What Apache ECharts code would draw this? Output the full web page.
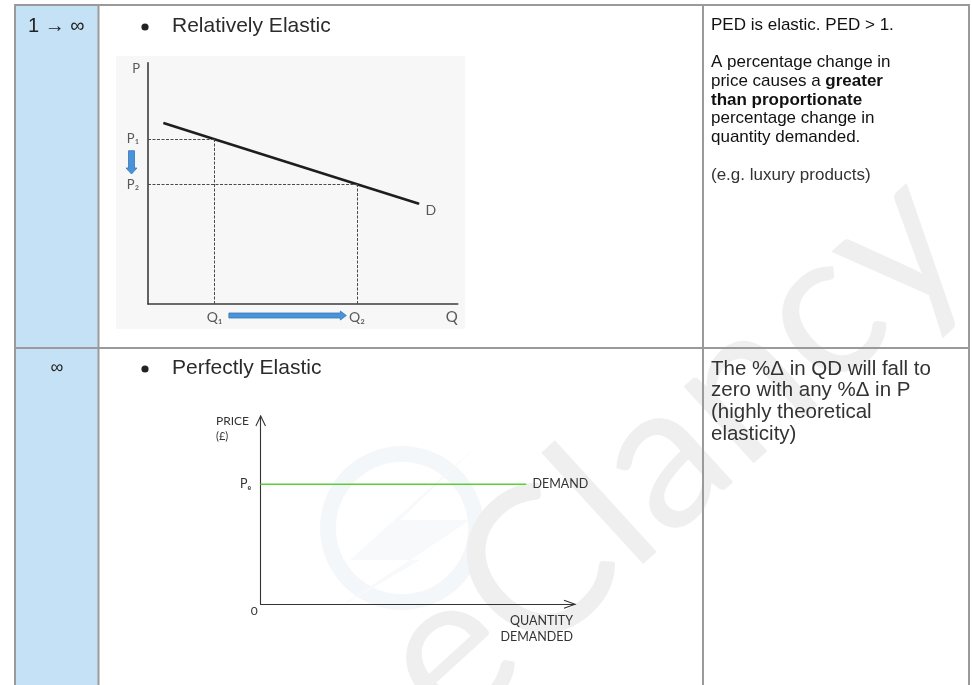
<!DOCTYPE html>
<html>
<head>
<meta charset="utf-8">
<script src="https://cdn.jsdelivr.net/npm/echarts@6/dist/echarts.min.js"></script>
<style>
html,body{margin:0;padding:0;background:#ffffff;}
#c{width:972px;height:685px;}
</style>
</head>
<body>
<div id="c"></div>
<script>
// ---------- table content ----------
const rangeLabels = ['1 \u2192 \u221e', '\u221e'];
const typeLabels = ['Relatively Elastic', 'Perfectly Elastic'];
const descRow1Head = 'PED is elastic. PED > 1.';
const descRow1Body = ['A percentage change in', 'price causes a {b|greater}', '{b|than proportionate}', 'percentage change in', 'quantity demanded.'];
const descRow1Tail = '(e.g. luxury products)';
const descRow2 = ['The %\u0394 in QD will fall to', 'zero with any %\u0394 in P', '(highly theoretical', 'elasticity)'];

// ---------- chart 1: relatively elastic demand ----------
const relQ = [0.5, 2.15, 6.75, 8.75];      // quantity along D
const relP = [7.5, 6.83, 4.96, 4.15];      // price along D
const relPriceTicks = ['P\u2081', 'P\u2082'];
const relQtyTicks = ['Q\u2081', 'Q\u2082'];
const relAxisNames = ['Q', 'P', 'D'];

// ---------- chart 2: perfectly elastic demand ----------
const perfQ = [0, 8.44];
const perfP = [6.37, 6.37];
const perfLabels = ['P\u2091', 'DEMAND'];
const perfAxisNames = ['QUANTITY\nDEMANDED', 'PRICE', '(\u00a3)', '0'];

const FONT = "'Liberation Sans', Arial, sans-serif";
const CF = "Lato, 'Open Sans', sans-serif";

const chart = echarts.init(document.getElementById('c'), null, {renderer: 'canvas', width: 972, height: 685});

function staticGraphics() {
  const els = [];
  const line = (id, x1, y1, x2, y2) => ({id, type: 'line', z: 40, silent: true,
    shape: {x1, y1, x2, y2}, style: {stroke: '#9a9a9a', lineWidth: 2}});
  els.push({id: 'blue', type: 'rect', z: -30, silent: true, shape: {x: 15, y: 5, width: 83.5, height: 690}, style: {fill: '#c5e1f5'}});
  // faint watermark
  els.push({id: 'wmRing', type: 'circle', z: -25, silent: true, shape: {cx: 402, cy: 528, r: 74}, style: {fill: 'none', stroke: '#f4f7f9', lineWidth: 16}});
  els.push({id: 'wmBolt', type: 'polygon', z: -25, silent: true,
    shape: {points: [[480, 443], [350, 560], [420, 560], [335, 610], [470, 520], [400, 520]]}, style: {fill: '#f7f9fa'}});
  els.push({id: 'wmText', type: 'text', z: -24, silent: true, x: 670, y: 450, rotation: 0.74,
    style: {text: 'eClancy', fill: '#efefef', fontSize: 205, fontWeight: 'normal', fontFamily: CF, textAlign: 'center', textVerticalAlign: 'middle'}});
  els.push({id: 'c1bg', type: 'rect', z: -20, silent: true, shape: {x: 116, y: 56, width: 349, height: 273}, style: {fill: '#f7f7f7'}});
  els.push(line('tTop', 14, 5, 970, 5));
  els.push(line('tLeft', 15, 4, 15, 690));
  els.push(line('tC1', 98.5, 4, 98.5, 690));
  els.push(line('tC2', 703, 4, 703, 690));
  els.push(line('tRight', 969, 4, 969, 690));
  els.push(line('tRow', 14, 348, 970, 348));
  els.push({id: 'r1', type: 'text', z: 50, silent: true, x: 28, y: 26,
    style: {text: rangeLabels[0], fill: '#222', fontSize: 20, fontFamily: FONT, textVerticalAlign: 'middle'}});
  els.push({id: 'r2', type: 'text', z: 50, silent: true, x: 57, y: 368,
    style: {text: rangeLabels[1], fill: '#222', fontSize: 18, fontFamily: FONT, textAlign: 'center', textVerticalAlign: 'middle'}});
  els.push({id: 'b1', type: 'circle', z: 50, silent: true, shape: {cx: 145, cy: 27, r: 3.6}, style: {fill: '#222'}});
  els.push({id: 'b2', type: 'circle', z: 50, silent: true, shape: {cx: 145, cy: 369, r: 3.6}, style: {fill: '#222'}});
  els.push({id: 'h1', type: 'text', z: 50, silent: true, x: 172, y: 26,
    style: {text: typeLabels[0], fill: '#2b2b2b', fontSize: 21, fontFamily: FONT, textVerticalAlign: 'middle'}});
  els.push({id: 'h2', type: 'text', z: 50, silent: true, x: 172, y: 368,
    style: {text: typeLabels[1], fill: '#2b2b2b', fontSize: 21, fontFamily: FONT, textVerticalAlign: 'middle'}});
  els.push({id: 'd1a', type: 'text', z: 50, silent: true, x: 711, y: 25,
    style: {text: descRow1Head, fill: '#111', fontSize: 17, fontFamily: FONT, textVerticalAlign: 'middle'}});
  els.push({id: 'd1b', type: 'text', z: 50, silent: true, x: 711, y: 53.4,
    style: {text: descRow1Body.join('\n'), fill: '#111', fontSize: 17, fontFamily: FONT, lineHeight: 18.6, textVerticalAlign: 'top',
      rich: {b: {fontWeight: 'bold', fontSize: 17, fontFamily: FONT, lineHeight: 18.6, fill: '#111'}}}});
  els.push({id: 'd1c', type: 'text', z: 50, silent: true, x: 711, y: 175,
    style: {text: descRow1Tail, fill: '#333', fontSize: 17, fontFamily: FONT, textVerticalAlign: 'middle'}});
  els.push({id: 'd2', type: 'text', z: 50, silent: true, x: 711, y: 358.2,
    style: {text: descRow2.join('\n'), fill: '#333', fontSize: 20.5, fontFamily: FONT, lineHeight: 21.7, textVerticalAlign: 'top'}});
  return els;
}

const axisBase = (gi, color, w) => ({
  gridIndex: gi, type: 'value', min: 0, max: 10, interval: 10,
  axisLine: {show: true, onZero: false, lineStyle: {color: color, width: w}},
  axisTick: {show: false}, axisLabel: {show: false}, splitLine: {show: false}
});

const x1 = axisBase(0, '#3c3c3c', 1.6);
x1.name = relAxisNames[0]; x1.nameLocation = 'end'; x1.nameGap = 0;
x1.nameTextStyle = {fontFamily: CF, fontSize: 15, color: '#595959', align: 'right', verticalAlign: 'top', padding: [6, 0, 0, 0]};
const y1 = axisBase(0, '#3c3c3c', 1.6);
y1.name = relAxisNames[1]; y1.nameLocation = 'end'; y1.nameGap = 0;
y1.nameTextStyle = {fontFamily: CF, fontSize: 13, color: '#595959', align: 'right', verticalAlign: 'top', padding: [0, 8, 0, 0]};

const x2 = axisBase(1, '#333', 1.1);
x2.axisLabel = {show: true, showMinLabel: true, formatter: v => (v === 0 ? perfAxisNames[3] : ''), align: 'right', margin: 1,
  padding: [0, 3, 0, 0], fontFamily: CF, fontSize: 12, color: '#333'};
x2.name = perfAxisNames[0]; x2.nameLocation = 'end'; x2.nameGap = -2;
x2.nameTextStyle = {fontFamily: CF, fontSize: 12.5, color: '#333', align: 'right', verticalAlign: 'top', lineHeight: 15.7, padding: [9, 0, 0, 0]};
const y2 = axisBase(1, '#333', 1.1);

const option = {
  animation: false,
  backgroundColor: '#ffffff',
  grid: [
    {left: 148, top: 62.7, width: 309.7, height: 241.3, containLabel: false, outerBoundsMode: 'none'},
    {left: 260.7, top: 416, width: 314.3, height: 188.3, containLabel: false, outerBoundsMode: 'none'}
  ],
  xAxis: [x1, x2],
  yAxis: [y1, y2],
  series: [
    {
      type: 'line', xAxisIndex: 0, yAxisIndex: 0, silent: true,
      symbol: 'circle', symbolSize: 1, showSymbol: true,
      itemStyle: {color: '#1e1e1e'},
      lineStyle: {color: '#1e1e1e', width: 2.6},
      data: relQ.map((q, i) => i === relQ.length - 1
        ? {value: [q, relP[i]], label: {show: true, position: 'right', distance: 5, offset: [1, 7], formatter: relAxisNames[2],
            fontFamily: CF, fontSize: 14, color: '#595959'}}
        : [q, relP[i]]),
      markLine: {
        symbol: 'none', silent: true, animation: false,
        lineStyle: {color: '#4a4a4a', width: 1, type: [3, 1.5]},
        label: {show: true, color: '#595959', fontFamily: CF, fontSize: 13},
        data: [
          [{coord: [0, relP[1]], label: {formatter: relPriceTicks[0], position: 'start', distance: 9}}, {coord: [relQ[1], relP[1]]}],
          [{coord: [0, relP[2]], label: {formatter: relPriceTicks[1], position: 'start', distance: 9}}, {coord: [relQ[2], relP[2]]}],
          [{coord: [relQ[1], 0], label: {formatter: relQtyTicks[0], position: 'start', distance: 6, fontSize: 14}}, {coord: [relQ[1], relP[1]]}],
          [{coord: [relQ[2], 0], label: {formatter: relQtyTicks[1], position: 'start', distance: 6, fontSize: 14}}, {coord: [relQ[2], relP[2]]}]
        ]
      }
    },
    {
      type: 'line', xAxisIndex: 1, yAxisIndex: 1, silent: true,
      symbol: 'circle', symbolSize: 1, showSymbol: true,
      itemStyle: {color: '#5ccf38'},
      lineStyle: {color: '#5ccf38', width: 1.5},
      data: perfQ.map((q, i) => ({
        value: [q, perfP[i]],
        label: {show: true, position: i === 0 ? 'left' : 'right', distance: i === 0 ? 9 : 6, formatter: perfLabels[i],
          fontFamily: CF, fontSize: 12.5, color: '#333'}
      }))
    }
  ],
  graphic: {elements: staticGraphics()}
};

chart.setOption(option);

const c1 = (q, p) => chart.convertToPixel({gridIndex: 0}, [q, p]);
const c2 = (q, p) => chart.convertToPixel({gridIndex: 1}, [q, p]);
const extra = [];
const pp1 = c1(0, relP[1]), pp2 = c1(0, relP[2]);
const qq1 = c1(relQ[1], 0), qq2 = c1(relQ[2], 0);
{
  const cx = pp1[0] - 16.5, ya = pp1[1] + 11.5, yb = pp2[1] - 10.3, hw = 3, hh = 5.5, hl = 6;
  extra.push({id: 'arrD', type: 'polygon', z: 30, silent: true,
    shape: {points: [[cx - hw, ya], [cx + hw, ya], [cx + hw, yb - hl], [cx + hh, yb - hl], [cx, yb], [cx - hh, yb - hl], [cx - hw, yb - hl]]},
    style: {fill: '#4b93d8', stroke: '#3576b8', lineWidth: 0.8}});
}
{
  const cy = qq1[1] + 11.5, xa = qq1[0] + 14.3, xb = qq2[0] - 10.7, hw = 2.5, hh = 4.5, hl = 6;
  extra.push({id: 'arrR', type: 'polygon', z: 30, silent: true,
    shape: {points: [[xa, cy - hw], [xb - hl, cy - hw], [xb - hl, cy - hh], [xb, cy], [xb - hl, cy + hh], [xb - hl, cy + hw], [xa, cy + hw]]},
    style: {fill: '#4b93d8', stroke: '#3576b8', lineWidth: 0.8}});
}
{
  const o = c2(0, 0), xe = c2(10, 0), ye = c2(0, 10);
  extra.push({id: 'chevX', type: 'polyline', z: 30, silent: true,
    shape: {points: [[xe[0] - 11, xe[1] - 4], [xe[0], xe[1]], [xe[0] - 11, xe[1] + 4]]}, style: {stroke: '#333', lineWidth: 1.1, fill: null}});
  extra.push({id: 'chevY', type: 'polyline', z: 30, silent: true,
    shape: {points: [[ye[0] - 4.8, ye[1] + 10], [ye[0], ye[1]], [ye[0] + 4.8, ye[1] + 10]]}, style: {stroke: '#333', lineWidth: 1.1, fill: null}});
  extra.push({id: 'priceName', type: 'text', z: 30, silent: true, x: o[0] - 44.7, y: ye[1] + 5,
    style: {text: perfAxisNames[1], fill: '#333', fontSize: 12, fontFamily: CF, textVerticalAlign: 'middle'}});
  extra.push({id: 'priceUnit', type: 'text', z: 30, silent: true, x: o[0] - 44.7, y: ye[1] + 20.7,
    style: {text: perfAxisNames[2], fill: '#333', fontSize: 11, fontFamily: CF, textVerticalAlign: 'middle'}});
}
chart.setOption({graphic: {elements: staticGraphics().concat(extra)}});
</script>
</body>
</html>
